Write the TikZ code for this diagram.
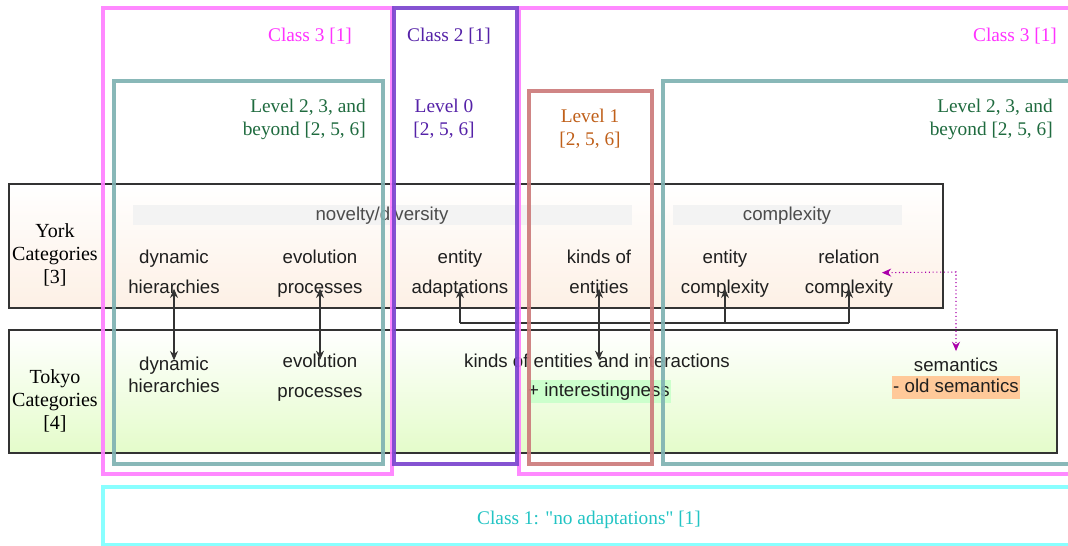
\documentclass[tikz,border=0pt]{standalone}
\usepackage{fontspec}
\setmainfont{Liberation Serif}
\newfontfamily\sansf{Liberation Sans}
\usetikzlibrary{arrows.meta,calc}
\definecolor{pinkc}{HTML}{FF80FF}
\definecolor{pinkt}{HTML}{FF33FF}
\definecolor{purplec}{HTML}{7B45CF}
\definecolor{purplet}{HTML}{5522A8}
\definecolor{tealc}{HTML}{7FB2B2}
\definecolor{greent}{HTML}{1F6B3F}
\definecolor{redc}{HTML}{CC7B7B}
\definecolor{oranget}{HTML}{C0601A}
\definecolor{cyanc}{HTML}{80FFFF}
\definecolor{cyant}{HTML}{22C4C4}
\definecolor{peach}{HTML}{FDF0E5}
\definecolor{lgreen}{HTML}{E4FCCA}
\definecolor{barc}{HTML}{F3F3F3}
\definecolor{hlgreen}{HTML}{CCFFCC}
\definecolor{hlorange}{HTML}{FFC999}
\definecolor{magc}{HTML}{AA00AA}
\definecolor{arrc}{HTML}{333333}
\begin{document}
\begin{tikzpicture}[x=0.75pt,y=-0.75pt,
  lbl/.style={font=\sansf\fontsize{14}{16}\selectfont, text=black!88, inner sep=0pt, text height=10pt, text depth=3pt, yshift=-2pt},
  ser/.style={font=\fontsize{14.5}{17.25}\selectfont, inner sep=0pt, align=center, yshift=-1.8pt},
  catbox/.style={draw=black!80, line width=0.8pt},
  bar/.style={fill=barc, draw=none},
  outline/.style={line width=3.2pt, draw opacity=0.92},
  conn/.style={draw=arrc, line width=0.9pt},
  tip/.style={-{Stealth[length=7pt,width=6pt]}},
  dtip/.style={{Stealth[length=7pt,width=6pt]}-{Stealth[length=7pt,width=6pt]}}
]
\clip (0,0) rectangle (1068,546);
\fill[white] (0,0) rectangle (1068,546);

% category boxes
\shade[top color=white, bottom color=peach] (9,184) rectangle (943,308);
\draw[catbox] (9,184) rectangle (943,308);
\shade[top color=white, bottom color=lgreen] (9,330) rectangle (1057,453);
\draw[catbox] (9,330) rectangle (1057,453);

% grey bars
\fill[bar] (133,205) rectangle (632,225);
\fill[bar] (673,205) rectangle (902,225);
\node[lbl, text=black!70] (nov) at (382,213) {novelty/diversity};
\node[lbl, text=black!70] (cpx) at (787,213) {complexity};

% category labels
\node[ser, font=\fontsize{15}{17.25}\selectfont, yshift=-0.6pt] (york) at (55,252) {York\\Categories\\{}[3]};
\node[ser, font=\fontsize{15}{17.25}\selectfont, yshift=-0.6pt] (tokyo) at (55,398) {Tokyo\\Categories\\{}[4]};

% York items
\node[lbl] (yd1) at (174,256) {dynamic};
\node[lbl] (yd2) at (174,286) {hierarchies};
\node[lbl] (ye1) at (320,256) {evolution};
\node[lbl] (ye2) at (320,286) {processes};
\node[lbl] (ya1) at (460,256) {entity};
\node[lbl] (ya2) at (460,286) {adaptations};
\node[lbl] (yk1) at (599,256) {kinds of};
\node[lbl] (yk2) at (599,286) {entities};
\node[lbl] (yc1) at (725,256) {entity};
\node[lbl] (yc2) at (725,286) {complexity};
\node[lbl] (yr1) at (849,256) {relation};
\node[lbl] (yr2) at (849,286) {complexity};

% Tokyo items
\node[lbl] (td1) at (174,363) {dynamic};
\node[lbl] (td2) at (174,385) {hierarchies};
\node[lbl] (te1) at (320,360) {evolution};
\node[lbl] (te2) at (320,390) {processes};
\node[lbl] (tk) at (597,360) {kinds of entities and interactions};
\node[lbl, fill=hlgreen, inner xsep=1pt, inner ysep=2pt] (ti) at (599,389) {+ interestingness};
\node[lbl] (ts) at (956,364) {semantics};
\node[lbl, fill=hlorange, inner xsep=1pt, inner ysep=2pt] (to) at (956,385) {- old semantics};

% connectors
\draw[conn, dtip] (yd2.center) -- ([yshift=4pt]td1.center);
\draw[conn, dtip] (ye2.center) -- ([yshift=2pt]te1.center);
\draw[conn, dtip] (yk2.center) -- ([yshift=2pt]yk2.center |- tk.center);
\coordinate (bus) at (725,323);
\draw[conn] (ya2.center |- bus) -- (yr2.center |- bus);
\draw[conn, tip] (ya2.center |- bus) -- (ya2.center);
\draw[conn, tip] (yc2.center |- bus) -- (yc2.center);
\draw[conn, tip] (yr2.center |- bus) -- (yr2.center);
\coordinate (mag) at (956,272);
\draw[draw=magc, line width=0.8pt, dotted, {Stealth[length=7pt,width=6pt]}-{Stealth[length=7pt,width=6pt]}]
  ($(yr1.east)+(2,14)$) -- (mag) -- ([yshift=5pt]ts.north);

% outline boxes
\draw[outline, draw=pinkc] (103,8) rectangle (392,474);
\draw[outline, draw=pinkc] (519,8) rectangle (1085,474);
\draw[outline, draw=tealc] (114,81) rectangle (383,464);
\draw[outline, draw=tealc] (663,81) rectangle (1085,464);
\draw[outline, draw=redc] (529,91) rectangle (652,464);
\draw[outline, draw=purplec] (394,8) rectangle (517,464);
\draw[outline, draw=cyanc] (103,487) rectangle (1085,545);

% class / level labels
\node[ser, text=pinkt] (c3l) at (310,34) {Class 3 [1]};
\node[ser, text=purplet] (c2) at (449,34) {Class 2 [1]};
\node[ser, text=pinkt] (c3r) at (1015,34) {Class 3 [1]};
\node[ser, text=greent, anchor=east, align=right] (l2l) at (366,116.5) {Level 2, 3, and\\beyond [2, 5, 6]};
\node[ser, text=purplet] (l0) at (444,116.5) {Level 0\\{}[2, 5, 6]};
\node[ser, text=oranget] (l1) at (590,126.5) {Level 1\\{}[2, 5, 6]};
\node[ser, text=greent, anchor=east, align=right] (l2r) at (1053,116.5) {Level 2, 3, and\\beyond [2, 5, 6]};
\node[ser, text=cyant] (c1) at (589,517) {Class 1: \textquotedbl no adaptations\textquotedbl\ [1]};
\end{tikzpicture}
\end{document}
